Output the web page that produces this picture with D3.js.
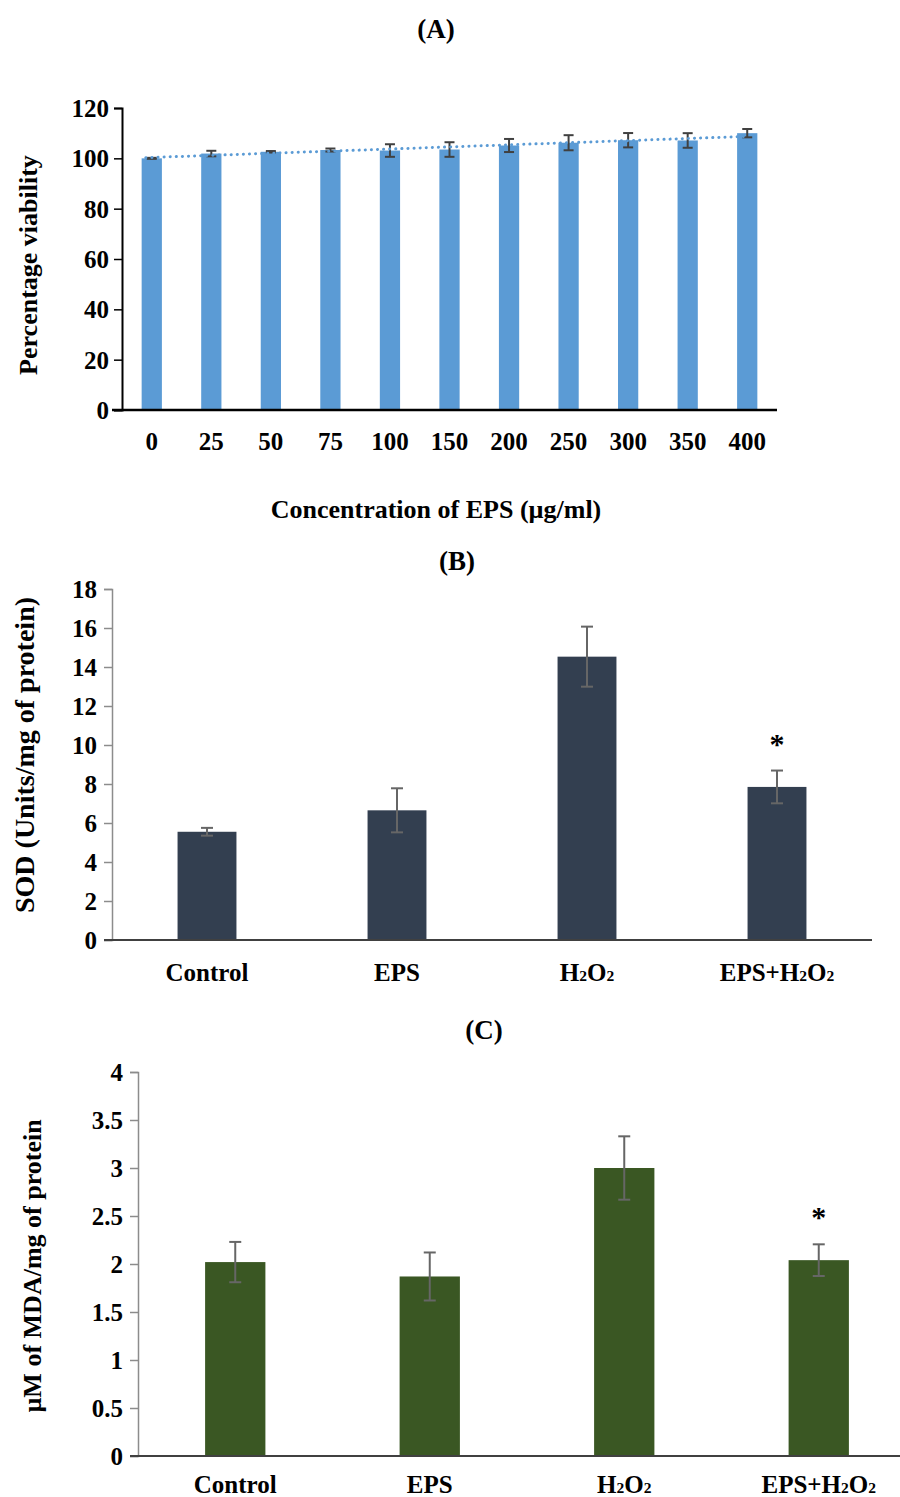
<!DOCTYPE html>
<html>
<head>
<meta charset="utf-8">
<script src="https://cdn.jsdelivr.net/npm/d3@7/dist/d3.min.js"></script>
<style>
  body { margin: 0; background: #fff; }
  svg text { font-family: "Liberation Serif", "Times New Roman", serif; font-weight: bold; fill: #000; }
</style>
</head>
<body>
<svg id="chart" width="900" height="1497"></svg>
<script>
// Panel A data
const concLabels = ["0", "25", "50", "75", "100", "150", "200", "250", "300", "350", "400"];
const viability = [100, 101.9, 102.6, 103.3, 103.1, 103.5, 105.1, 106.2, 107.2, 107.1, 110];
const viabilityErr = [0.2, 1.1, 0.3, 0.6, 2.5, 2.9, 2.6, 3.0, 2.85, 2.9, 1.65];
const viabilityTicks = [0, 20, 40, 60, 80, 100, 120];

// Panel B / C data
const groups = ["Control", "EPS", "H2O2", "EPS+H2O2"];
const sod = [5.55, 6.65, 14.53, 7.85];
const sodErr = [0.2, 1.13, 1.54, 0.84];
const sodTicks = [0, 2, 4, 6, 8, 10, 12, 14, 16, 18];
const mda = [2.02, 1.87, 3.0, 2.04];
const mdaErr = [0.21, 0.25, 0.33, 0.165];
const mdaTicks = [0, 0.5, 1, 1.5, 2, 2.5, 3, 3.5, 4];
const significant = [false, false, false, true];

const svg = d3.select("#chart");

// ---------- Panel A ----------
function draw_viability() {
    const x = d3.scaleBand().domain(concLabels).range([122, 777]).paddingInner(0.66).paddingOuter(0.33);
    const y = d3.scaleLinear().domain([0, 120]).range([410, 108]);
    const g = svg.append("g");

    svg.append("text").attr("x", 436).attr("y", 38).attr("text-anchor", "middle")
        .style("font-size", "27px").text("(A)");

    g.selectAll(".bar").data(viability).enter().append("rect")
        .attr("x", (d, i) => x(concLabels[i]))
        .attr("y", d => y(d))
        .attr("width", x.bandwidth())
        .attr("height", d => y(0) - y(d))
        .attr("fill", "#5b9bd5");

    // error bars
    const eb = g.selectAll(".err").data(viability).enter().append("g")
        .attr("stroke", "#404040").attr("stroke-width", 2);
    eb.append("line")
        .attr("x1", (d, i) => x(concLabels[i]) + x.bandwidth() / 2)
        .attr("x2", (d, i) => x(concLabels[i]) + x.bandwidth() / 2)
        .attr("y1", (d, i) => y(d + viabilityErr[i]))
        .attr("y2", (d, i) => y(d - viabilityErr[i]));
    [1, -1].forEach(s => {
        eb.append("line")
            .attr("x1", (d, i) => x(concLabels[i]) + x.bandwidth() / 2 - 5)
            .attr("x2", (d, i) => x(concLabels[i]) + x.bandwidth() / 2 + 5)
            .attr("y1", (d, i) => y(d + s * viabilityErr[i]))
            .attr("y2", (d, i) => y(d + s * viabilityErr[i]));
    });

    // linear trendline (least squares over category index)
    const n = viability.length;
    const mx = d3.mean(viability, (d, i) => i);
    const my = d3.mean(viability);
    const slope = d3.sum(viability, (d, i) => (i - mx) * (d - my)) / d3.sum(viability, (d, i) => (i - mx) * (i - mx));
    const icpt = my - slope * mx;
    const cx = i => x(concLabels[i]) + x.bandwidth() / 2;
    g.append("line")
        .attr("x1", cx(0) - 6).attr("y1", y(icpt - slope * 0.1))
        .attr("x2", cx(n - 1) + 2).attr("y2", y(icpt + slope * (n - 1)))
        .attr("stroke", "#5b9bd5").attr("stroke-width", 3)
        .attr("stroke-dasharray", "0.1 6").attr("stroke-linecap", "round");

    // axes
    const ya = g.append("g").attr("transform", "translate(122,0)")
        .call(d3.axisLeft(y).tickValues(viabilityTicks).tickSize(8).tickPadding(5));
    ya.select(".domain").attr("stroke", "#000").attr("stroke-width", 2);
    ya.selectAll(".tick line").attr("stroke", "#000").attr("stroke-width", 1.5);
    ya.selectAll(".tick text").style("font-size", "25px").attr("font-family", null).attr("dy", "0.34em");

    g.append("line").attr("x1", 112).attr("x2", 777).attr("y1", y(0)).attr("y2", y(0))
        .attr("stroke", "#000").attr("stroke-width", 2.5);

    g.selectAll(".xl").data(concLabels).enter().append("text")
        .attr("x", d => x(d) + x.bandwidth() / 2).attr("y", 450)
        .attr("text-anchor", "middle").style("font-size", "25px").text(d => d);

    svg.append("text").attr("x", 436).attr("y", 518).attr("text-anchor", "middle")
        .style("font-size", "26px").text("Concentration of EPS (µg/ml)");

    svg.append("text").attr("transform", "translate(37,265) rotate(-90)")
        .attr("text-anchor", "middle").style("font-size", "26px").text("Percentage viability");
}

// ---------- Panels B and C ----------
function groupLabel(sel, name) {
    const parts = name.split(/(2)/);
    parts.forEach(p => {
        if (p === "") return;
        if (p === "2") {
            sel.append("tspan").style("font-size", "0.62em").text("2");
        } else {
            sel.append("tspan").text(p);
        }
    });
}

function draw_group_chart(opt) {
    const x = d3.scaleBand().domain(groups).range(opt.xr).paddingInner(0.69).paddingOuter(0.345);
    const y = d3.scaleLinear().domain(opt.domain).range(opt.yr);
    const g = svg.append("g");

    svg.append("text").attr("x", opt.titleX).attr("y", opt.titleY).attr("text-anchor", "middle")
        .style("font-size", "27px").text(opt.title);

    g.selectAll(".bar").data(opt.values).enter().append("rect")
        .attr("x", (d, i) => x(groups[i]))
        .attr("y", d => y(d))
        .attr("width", x.bandwidth())
        .attr("height", d => y(0) - y(d))
        .attr("fill", opt.color);

    const cx = i => x(groups[i]) + x.bandwidth() / 2;
    const eb = g.selectAll(".err").data(opt.values).enter().append("g")
        .attr("stroke", "#666").attr("stroke-width", 2);
    eb.append("line")
        .attr("x1", (d, i) => cx(i)).attr("x2", (d, i) => cx(i))
        .attr("y1", (d, i) => y(d + opt.errs[i])).attr("y2", (d, i) => y(d - opt.errs[i]));
    [1, -1].forEach(s => {
        eb.append("line")
            .attr("x1", (d, i) => cx(i) - 6).attr("x2", (d, i) => cx(i) + 6)
            .attr("y1", (d, i) => y(d + s * opt.errs[i])).attr("y2", (d, i) => y(d + s * opt.errs[i]));
    });

    // significance stars
    const idx = d3.range(groups.length).filter(i => significant[i]);
    g.selectAll(".star").data(idx).enter().append("text")
        .attr("x", i => cx(i))
        .attr("y", i => y(opt.values[i] + opt.errs[i]) - 17)
        .attr("text-anchor", "middle").style("font-size", "30px").text("*");

    const ya = g.append("g").attr("transform", `translate(${opt.xr[0]},0)`)
        .call(d3.axisLeft(y).tickValues(opt.ticks).tickFormat(d3.format("~g")).tickSize(8).tickPadding(7));
    ya.select(".domain").attr("stroke", "#8c8c8c").attr("stroke-width", 1.5);
    ya.selectAll(".tick line").attr("stroke", "#8c8c8c").attr("stroke-width", 1.5);
    ya.selectAll(".tick text").style("font-size", "25px").attr("font-family", null).attr("dy", "0.34em");

    g.append("line").attr("x1", opt.xr[0] - 8).attr("x2", opt.axisEnd)
        .attr("y1", y(0)).attr("y2", y(0)).attr("stroke", "#404040").attr("stroke-width", 2);

    g.selectAll(".xl").data(groups).enter().append("text")
        .attr("x", (d, i) => cx(i)).attr("y", opt.labelY)
        .attr("text-anchor", "middle").style("font-size", "25px")
        .each(function (d) { groupLabel(d3.select(this), d); });

    svg.append("text").attr("transform", `translate(${opt.ylabX},${opt.ylabY}) rotate(-90)`)
        .attr("text-anchor", "middle").style("font-size", opt.ylabSize).text(opt.ylabel);
}

draw_viability();

draw_group_chart({
    title: "(B)", titleX: 457, titleY: 570,
    values: sod, errs: sodErr, ticks: sodTicks, domain: [0, 18],
    xr: [112, 872], yr: [940, 589], axisEnd: 872,
    color: "#333f50", labelY: 981,
    ylabel: "SOD (Units/mg of protein)", ylabX: 34, ylabY: 755, ylabSize: "28px"
});

draw_group_chart({
    title: "(C)", titleX: 484, titleY: 1039,
    values: mda, errs: mdaErr, ticks: mdaTicks, domain: [0, 4],
    xr: [138, 916], yr: [1456, 1072], axisEnd: 900,
    color: "#3a5723", labelY: 1493,
    ylabel: "µM of MDA/mg of protein", ylabX: 41, ylabY: 1266, ylabSize: "26px"
});
</script>
</body>
</html>
